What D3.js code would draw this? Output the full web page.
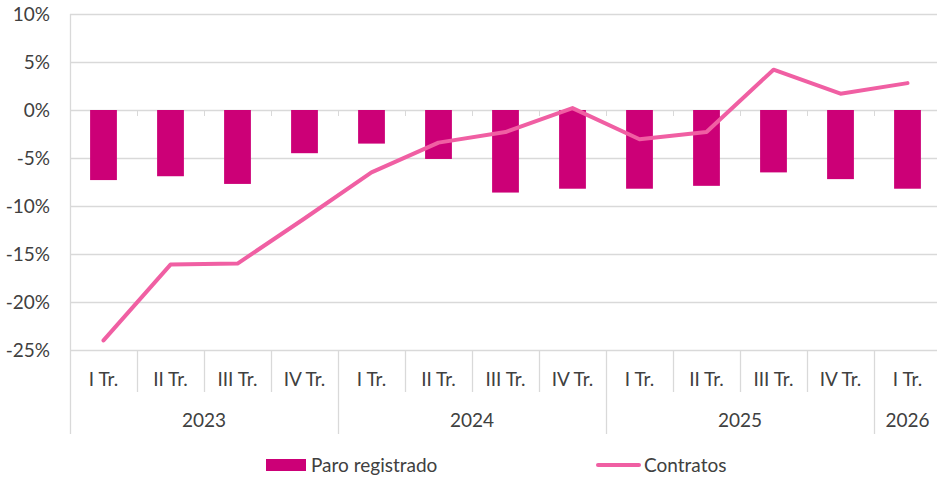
<!DOCTYPE html>
<html lang="es">
<head>
    <meta charset="UTF-8">
    <title>Paro registrado y contratos</title>
    <script src="https://cdn.jsdelivr.net/npm/d3@7"></script>
    <style>
        body { margin: 0; background: #fff; }
        text { font-family: Lato, "Open Sans", sans-serif; fill: #404040; }
    </style>
</head>
<body>
<script>
    // datos (variacion interanual, %)
    var quarters = ["I Tr.", "II Tr.", "III Tr.", "IV Tr.", "I Tr.", "II Tr.", "III Tr.", "IV Tr.",
        "I Tr.", "II Tr.", "III Tr.", "IV Tr.", "I Tr."];
    var years = ["2023", "2023", "2023", "2023", "2024", "2024", "2024", "2024",
        "2025", "2025", "2025", "2025", "2026"];
    var paro = [-7.3, -6.9, -7.7, -4.5, -3.5, -5.1, -8.6, -8.2, -8.2, -7.9, -6.5, -7.2, -8.2];
    var contratos = [-24.0, -16.1, -16.0, -11.3, -6.5, -3.4, -2.3, 0.2, -3.05, -2.3, 4.2, 1.7, 2.8];
    var yTicks = [10, 5, 0, -5, -10, -15, -20, -25];

    var w = 937, h = 478;
    var plotLeft = 70, plotRight = 941, plotTop = 14, plotBottom = 350;
    var fontSize = "19px";

    var svg = d3.select("body").append("svg")
        .attr("width", w)
        .attr("height", h);

    var idx = d3.range(quarters.length);
    var xScale = d3.scaleBand()
        .domain(idx)
        .range([plotLeft, plotRight]);
    var yScale = d3.scaleLinear()
        .domain([-25, 10])
        .range([plotBottom, plotTop]);

    // lineas de cuadricula
    svg.append("g").selectAll("line")
        .data(yTicks)
        .enter()
        .append("line")
        .attr("x1", plotLeft)
        .attr("x2", plotRight)
        .attr("y1", function (d) { return Math.round(yScale(d)) + 0.5; })
        .attr("y2", function (d) { return Math.round(yScale(d)) + 0.5; })
        .attr("stroke", "#d9d9d9")
        .attr("stroke-width", 1.3);

    // etiquetas del eje y
    svg.append("g").selectAll("text")
        .data(yTicks)
        .enter()
        .append("text")
        .text(function (d) { return d + "%"; })
        .attr("x", 50)
        .attr("y", function (d) { return yScale(d); })
        .attr("dy", "0.35em")
        .attr("text-anchor", "end")
        .attr("font-size", fontSize);

    // pequenas marcas en la linea de 0
    svg.append("g").selectAll("line")
        .data(idx.slice(1))
        .enter()
        .append("line")
        .attr("x1", function (d) { return Math.round(xScale(d)) + 0.5; })
        .attr("x2", function (d) { return Math.round(xScale(d)) + 0.5; })
        .attr("y1", yScale(0))
        .attr("y2", yScale(0) + 6)
        .attr("stroke", "#d9d9d9");

    // barras: paro registrado
    svg.append("g").selectAll("rect")
        .data(paro)
        .enter()
        .append("rect")
        .attr("x", function (d, i) { return xScale(i) + xScale.bandwidth() * 0.3; })
        .attr("width", xScale.bandwidth() * 0.4)
        .attr("y", yScale(0))
        .attr("height", function (d) { return yScale(d) - yScale(0); })
        .attr("fill", "#cc0077");

    // linea: contratos
    var line = d3.line()
        .x(function (d, i) { return xScale(i) + xScale.bandwidth() / 2; })
        .y(function (d) { return yScale(d); });
    svg.append("path")
        .datum(contratos)
        .attr("d", line)
        .attr("fill", "none")
        .attr("stroke", "#f05fa3")
        .attr("stroke-width", 4)
        .attr("stroke-linejoin", "round")
        .attr("stroke-linecap", "round");

    // eje x de dos niveles
    var axisG = svg.append("g");
    axisG.append("line")
        .attr("x1", plotLeft + 0.5).attr("x2", plotLeft + 0.5)
        .attr("y1", plotTop).attr("y2", 434)
        .attr("stroke", "#d9d9d9").attr("stroke-width", 1.3);
    idx.slice(1).forEach(function (i) {
        var yearBreak = years[i] !== years[i - 1];
        axisG.append("line")
            .attr("x1", Math.round(xScale(i)) + 0.5)
            .attr("x2", Math.round(xScale(i)) + 0.5)
            .attr("y1", plotBottom)
            .attr("y2", yearBreak ? 434 : 392)
            .attr("stroke", "#d9d9d9").attr("stroke-width", 1.3);
    });
    axisG.selectAll("text.q")
        .data(quarters)
        .enter()
        .append("text")
        .attr("class", "q")
        .text(function (d) { return d; })
        .attr("x", function (d, i) { return xScale(i) + xScale.bandwidth() / 2; })
        .attr("y", 379)
        .attr("dy", "0.35em")
        .attr("text-anchor", "middle")
        .attr("font-size", fontSize);

    var yearGroups = d3.groups(idx, function (i) { return years[i]; });
    axisG.selectAll("text.yr")
        .data(yearGroups)
        .enter()
        .append("text")
        .attr("class", "yr")
        .text(function (d) { return d[0]; })
        .attr("x", function (d) {
            var a = xScale(d[1][0]);
            var b = xScale(d[1][d[1].length - 1]) + xScale.bandwidth();
            return (a + b) / 2;
        })
        .attr("y", 420)
        .attr("dy", "0.35em")
        .attr("text-anchor", "middle")
        .attr("font-size", fontSize);

    // leyenda
    var legend = svg.append("g");
    legend.append("rect")
        .attr("x", 266).attr("y", 459)
        .attr("width", 40).attr("height", 12)
        .attr("fill", "#cc0077");
    legend.append("text")
        .text("Paro registrado")
        .attr("x", 311).attr("y", 465).attr("dy", "0.35em")
        .attr("font-size", fontSize);
    legend.append("line")
        .attr("x1", 598).attr("x2", 639)
        .attr("y1", 465).attr("y2", 465)
        .attr("stroke", "#f05fa3").attr("stroke-width", 4)
        .attr("stroke-linecap", "round");
    legend.append("text")
        .text("Contratos")
        .attr("x", 644).attr("y", 465).attr("dy", "0.35em")
        .attr("font-size", fontSize);
</script>
</body>
</html>
